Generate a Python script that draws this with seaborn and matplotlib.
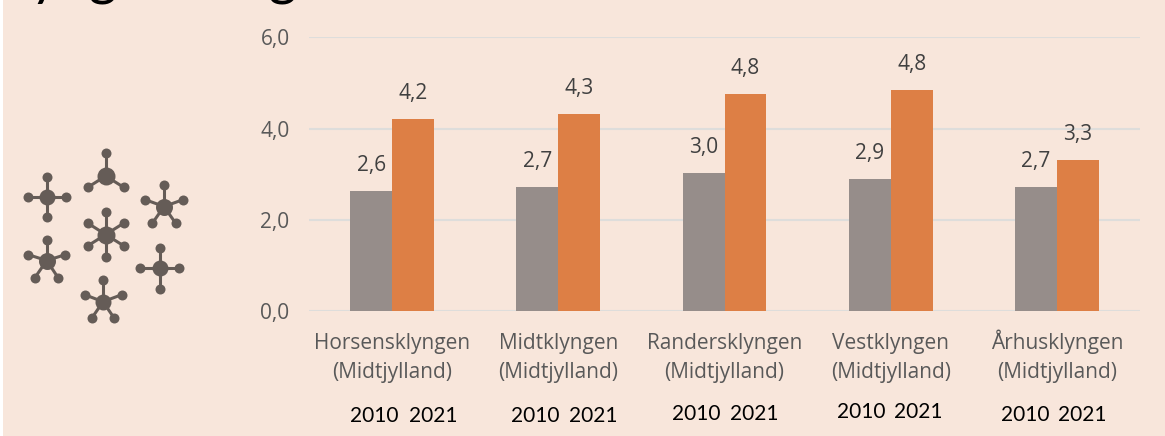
import matplotlib
matplotlib.use("Agg")
import matplotlib.pyplot as plt
from matplotlib.patches import Rectangle
from matplotlib.ticker import FuncFormatter
import pandas as pd
import seaborn as sns

# ---- data ----
clusters = ["Horsensklyngen\n(Midtjylland)", "Midtklyngen\n(Midtjylland)",
            "Randersklyngen\n(Midtjylland)", "Vestklyngen\n(Midtjylland)",
            "Århusklyngen\n(Midtjylland)"]
years = ["2010", "2021"]
values_2010 = [2.63, 2.72, 3.03, 2.89, 2.72]
values_2021 = [4.21, 4.32, 4.76, 4.84, 3.31]
y_ticks = [0, 2, 4, 6]
title_text = "Klyngerne og alder"

# ---- layout (pixels of the 1165x436 picture) ----
W, H = 1165, 436
PLOT_L, PLOT_R, PLOT_T, PLOT_B = 309, 1140, 37.5, 311
YEAR_POS = [(374, 416), (433, 416), (535, 416), (593, 416), (696, 414),
            (754, 414), (861, 412), (918, 412), (1025, 415), (1082, 415)]
# molecule icons: hub (x, y, radius) and arm tips, in pixels
MOLECULES = [
    ((47.3, 197, 8), [(47.3, 177), (28, 197), (66, 197), (47.3, 217)]),
    ((105.7, 176, 9), [(105.7, 153.5), (87.5, 187.5), (124, 187.5)]),
    ((164, 206.5, 8.5), [(164, 185.5), (145.3, 199.7), (183, 199.7), (152.3, 223.3), (175.7, 223.3)]),
    ((105.7, 234.5, 9), [(105.7, 212), (87.5, 223), (124, 223), (87.5, 246), (124, 246), (105.7, 257)]),
    ((46.7, 260.5, 8.5), [(46.7, 240), (28.3, 254.7), (65.3, 254.7), (34.7, 278), (58.3, 278)]),
    ((159.7, 268, 8), [(159.7, 247.7), (140.3, 268), (179, 268), (159.7, 288.7)]),
    ((103, 301.7, 8), [(103, 280), (84.7, 294.7), (121.7, 294.7), (91.7, 318.3), (114.3, 318.3)]),
]
TITLE_G1_X, TITLE_G2_X = 103.5, 283

BG = "#F8E6DB"
GREY = "#968D8A"
ORANGE = "#DD7F45"
GRID = "#DEDDDB"
ICON = "#655C57"

sns.set_theme(style="white")
plt.rcParams["font.family"] = ["Open Sans", "DejaVu Sans"]

fig = plt.figure(figsize=(W / 100, H / 100), dpi=100, facecolor="white")
fig.add_artist(Rectangle((3 / W, 0), 1 - 3 / W, 1, transform=fig.transFigure,
                         facecolor=BG, edgecolor="none", zorder=-10))

ax = fig.add_axes([PLOT_L / W, 1 - PLOT_B / H, (PLOT_R - PLOT_L) / W, (PLOT_B - PLOT_T) / H])
ax.patch.set_alpha(0)

df = pd.DataFrame({
    "klynge": clusters * 2,
    "aar": [years[0]] * len(clusters) + [years[1]] * len(clusters),
    "vaerdi": values_2010 + values_2021,
})
sns.barplot(data=df, x="klynge", y="vaerdi", hue="aar", order=clusters, hue_order=years,
            palette=[GREY, ORANGE], saturation=1, width=0.505, gap=0, legend=False,
            edgecolor="none", linewidth=0, ax=ax)

ax.set_xlim(-0.5, len(clusters) - 0.5)
ax.set_ylim(0, max(y_ticks))
ax.set_yticks(y_ticks)
ax.yaxis.set_major_formatter(FuncFormatter(lambda v, _: f"{v:.1f}".replace(".", ",")))
ax.set_xlabel("")
ax.set_ylabel("")
ax.grid(axis="y", color=GRID, linewidth=1.5, zorder=0)
ax.set_axisbelow(True)
sns.despine(ax=ax, left=True, bottom=True, top=True, right=True)
ax.tick_params(axis="y", length=0, pad=14, labelsize=15, labelcolor="#595959")
ax.tick_params(axis="x", length=0, pad=48, labelsize=15, labelcolor="#595959")
for lab in ax.get_xticklabels():
    lab.set_linespacing(1.45)
    lab.set_verticalalignment("baseline")

for container in ax.containers:
    ax.bar_label(container, fmt=lambda v: f"{v:.1f}".replace(".", ","), padding=11,
                 fontsize=15, color="#404040")

# overlay in picture pixels for the free year labels, the icon and the cut-off title
ov = fig.add_axes([0, 0, 1, 1], zorder=5)
ov.set_xlim(0, W)
ov.set_ylim(H, 0)
ov.axis("off")

for (x, y), label in zip(YEAR_POS, years * len(clusters)):
    ov.text(x, y, label, ha="center", va="center", fontsize=15, color="black", family="Lato")

for (hx, hy, r), tips in MOLECULES:
    for tx, ty in tips:
        ov.plot([hx, tx], [hy, ty], color=ICON, lw=2.2, solid_capstyle="round", zorder=1)
        ov.scatter([tx], [ty], s=(2 * 5 * 0.72) ** 2, color=ICON, linewidths=0, zorder=2)
    ov.scatter([hx], [hy], s=(2 * r * 0.72) ** 2, color=ICON, linewidths=0, zorder=2)

# only the descenders of the title stay on the canvas: fit them to the reference's g's
renderer = fig.canvas.get_renderer()
def text_width(s, size):
    t = fig.text(0, 0, s, fontsize=size, family="Lato")
    w = t.get_window_extent(renderer).width
    t.remove()
    return w

base = 35
g1 = (text_width("Klyn", base) + text_width("Klyng", base)) / 2
g2 = (text_width("Klyngerne o", base) + text_width("Klyngerne og", base)) / 2
scale = (TITLE_G2_X - TITLE_G1_X) / (g2 - g1)
title_size = base * scale
title_x = TITLE_G1_X - g1 * scale

fig.text(title_x / W, 1 + 5 / H, title_text, ha="left", va="baseline", fontsize=title_size,
         color="black", family="Lato", clip_on=False)

fig.savefig("out.png", dpi=100, facecolor=fig.get_facecolor())
